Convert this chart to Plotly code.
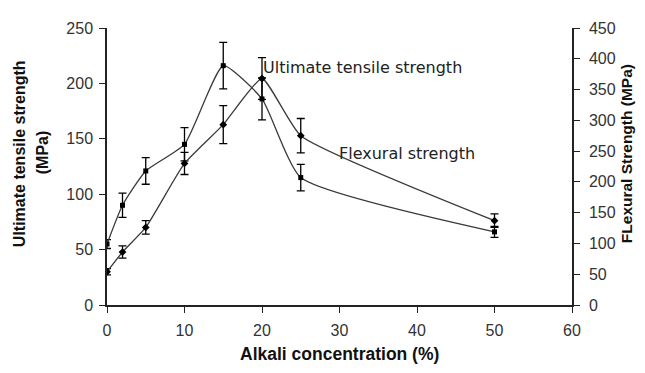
import plotly.graph_objects as go

# Data
alkali = [0, 2, 5, 10, 15, 20, 25, 50]
tensile = [55, 90, 121, 145, 216, 186, 115, 66]          # MPa (left axis)
tensile_err = [4, 11, 12, 15, 21, 19, 12, 5]
flexural = [54, 86, 126, 230, 293, 368, 275, 137]        # MPa (right axis)
flexural_err = [5, 10, 11, 18, 31, 34, 28, 11]

x_ticks = [0, 10, 20, 30, 40, 50, 60]
left_ticks = [0, 50, 100, 150, 200, 250]
right_ticks = [0, 50, 100, 150, 200, 250, 300, 350, 400, 450]

FONT = "Liberation Sans, Arial, sans-serif"
ANN_FONT = "DejaVu Sans, sans-serif"
LINE = "#3a3a3a"

# The page body has an 8px margin; size the figure so the plot area lands
# where the reference has it (plot area pixels x 107..572, y 24..305).
OFF = 8
W, H = 645 - OFF, 373 - OFF
L, R, T, B = 107 - OFF, 73, 24 - OFF, 68
PW, PH = 465, 281


def px(x):
    return (x - 107) / PW


def py(y):
    return (305 - y) / PH


fig = go.Figure()

fig.add_trace(go.Scatter(
    x=alkali, y=tensile, mode="lines+markers", name="Ultimate tensile strength",
    line=dict(color=LINE, width=1.3, shape="spline", smoothing=0.5),
    marker=dict(symbol="square", size=5, color="black"),
    error_y=dict(type="data", array=tensile_err, visible=True, color="black",
                 thickness=1.3, width=4),
    yaxis="y"))

fig.add_trace(go.Scatter(
    x=alkali, y=flexural, mode="lines+markers", name="Flexural strength",
    line=dict(color=LINE, width=1.3, shape="spline", smoothing=0.45),
    marker=dict(symbol="diamond", size=6, color="black"),
    error_y=dict(type="data", array=flexural_err, visible=True, color="black",
                 thickness=1.3, width=4),
    yaxis="y2"))

fig.add_annotation(x=20, y=214.5, xref="x", yref="y", text="Ultimate tensile strength",
                   showarrow=False, xanchor="left", yanchor="middle", borderpad=0,
                   font=dict(family=ANN_FONT, size=16, color="#222"))
fig.add_annotation(x=29.8, y=136.5, xref="x", yref="y", text="Flexural strength",
                   showarrow=False, xanchor="left", yanchor="middle", borderpad=0,
                   font=dict(family=ANN_FONT, size=16, color="#222"))

# Axis titles as positioned text (pixel positions converted to paper coords)
title_font = dict(family=FONT, size=16, color="#111")
fig.add_annotation(x=px(19), y=py(152), xref="paper", yref="paper",
                   text="<b>Ultimate tensile strength</b>", showarrow=False,
                   textangle=-90, xanchor="center", yanchor="middle", font=title_font)
fig.add_annotation(x=px(42), y=py(150), xref="paper", yref="paper",
                   text="<b>(MPa)</b>", showarrow=False,
                   textangle=-90, xanchor="center", yanchor="middle", font=title_font)
fig.add_annotation(x=px(626), y=py(152), xref="paper", yref="paper",
                   text="<b>FLexural Strength (MPa)</b>", showarrow=False,
                   textangle=-90, xanchor="center", yanchor="middle",
                   font=dict(family=FONT, size=15.5, color="#111"))
fig.add_annotation(x=px(339), y=py(355), xref="paper", yref="paper",
                   text="<b>Alkali concentration (%)</b>", showarrow=False,
                   xanchor="center", yanchor="middle",
                   font=dict(family=FONT, size=17.5, color="#111"))

axis_common = dict(showgrid=False, zeroline=False, showline=True, linecolor="#222",
                   linewidth=1.5, ticks="outside", ticklen=6, tickwidth=1.3,
                   tickcolor="#222",
                   tickfont=dict(family=FONT, size=16, color="#333"))

fig.update_layout(
    width=W, height=H,
    margin=dict(l=L, r=R, t=T, b=B),
    paper_bgcolor="white", plot_bgcolor="white",
    showlegend=False,
    xaxis=dict(range=[0, 60], tickvals=x_ticks, ticklabelstandoff=4, **axis_common),
    yaxis=dict(range=[0, 250], tickvals=left_ticks, ticklabelstandoff=3, **axis_common),
    yaxis2=dict(range=[0, 450], tickvals=right_ticks, overlaying="y", side="right",
                anchor="x", ticklabelstandoff=6, **axis_common),
    yaxis3=dict(range=[0, 450], tickvals=right_ticks, overlaying="y", side="right",
                anchor="x", showgrid=False, zeroline=False, showline=False,
                ticks="inside", ticklen=6, tickwidth=1.3, tickcolor="#222",
                showticklabels=False),
)

fig.write_html("out.html")
